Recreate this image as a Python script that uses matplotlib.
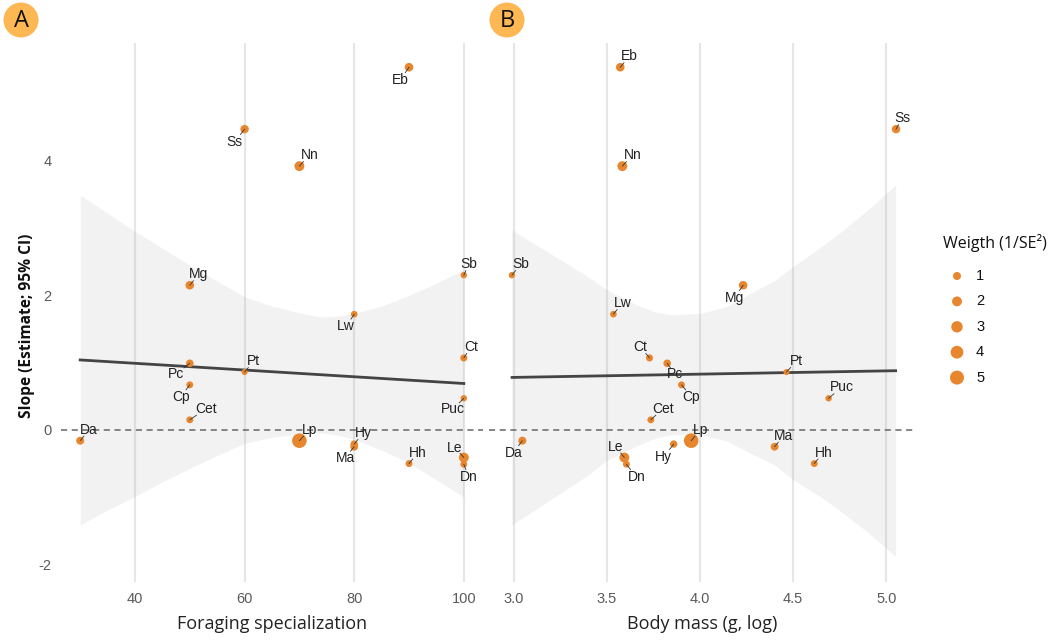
import numpy as np
import matplotlib.pyplot as plt
from matplotlib.patches import Circle

# species slopes with their two predictors
species = ["Eb", "Ss", "Nn", "Mg", "Sb", "Lw", "Pc", "Pt", "Cp", "Cet",
           "Ct", "Puc", "Da", "Lp", "Hy", "Ma", "Hh", "Le", "Dn"]
forage = [90, 60, 70, 50, 100, 80, 50, 60, 50, 50,
          100, 100, 30, 70, 80, 80, 90, 100, 100]
body_mass = [3.571, 5.052, 3.582, 4.231, 2.989, 3.534, 3.823, 4.464, 3.900, 3.735,
             3.728, 4.690, 3.045, 3.952, 3.858, 4.400, 4.613, 3.593, 3.604]
slope = [5.39, 4.47, 3.92, 2.15, 2.30, 1.72, 0.99, 0.86, 0.67, 0.15,
         1.07, 0.47, -0.16, -0.16, -0.21, -0.25, -0.50, -0.41, -0.51]
weight = [1.3, 1.2, 2.0, 1.3, 0.3, 0.4, 0.8, 0.2, 0.5, 0.5,
          0.6, 0.3, 1.0, 5.5, 0.7, 0.9, 0.5, 2.0, 0.5]

# fitted lines (endpoints) and 95% CI bands
fit_a_x = [30, 100]
fit_a_y = [1.04, 0.69]
band_a_x = [30, 35, 40, 45, 50, 55, 60, 65, 70, 73.7, 77, 80, 85, 90, 95, 100]
band_a_lo = [-1.41, -1.19, -0.99, -0.77, -0.57, -0.38, -0.20, -0.11, -0.06,
             -0.04, -0.08, -0.14, -0.30, -0.49, -0.74, -1.00]
band_a_hi = [3.49, 3.22, 2.95, 2.70, 2.45, 2.21, 1.98, 1.84, 1.74,
             1.68, 1.69, 1.73, 1.84, 2.00, 2.18, 2.38]

fit_b_x = [2.99, 5.05]
fit_b_y = [0.78, 0.88]
band_b_x = [2.99, 3.1, 3.25, 3.4, 3.5, 3.65, 3.75, 3.85, 4.0, 4.15, 4.25,
            4.4, 4.5, 4.65, 4.75, 4.9, 5.05]
band_b_lo = [-1.41, -1.21, -0.94, -0.67, -0.45, -0.25, -0.13, -0.07, -0.07,
             -0.17, -0.32, -0.52, -0.74, -1.00, -1.20, -1.52, -1.88]
band_b_hi = [2.97, 2.78, 2.53, 2.27, 2.08, 1.87, 1.76, 1.71, 1.73, 1.84,
             2.00, 2.22, 2.43, 2.72, 2.93, 3.27, 3.64]

legend_weights = [1, 2, 3, 4, 5]

# label offsets in pixels (right, up)
offs_a = {"Eb": (-9, -13), "Ss": (-10, -13), "Nn": (10, 11), "Mg": (9, 11),
          "Sb": (5, 11), "Lw": (-8, -12), "Pc": (-14, -11), "Pt": (9, 11),
          "Cp": (-9, -12), "Cet": (16, 11), "Ct": (7, 11), "Puc": (-11, -11),
          "Da": (9, 11), "Lp": (10, 11), "Hy": (9, 11), "Ma": (-9, -11),
          "Hh": (9, 11), "Le": (-9, 10), "Dn": (5, -13)}
offs_b = {"Eb": (9, 11), "Ss": (6, 11), "Nn": (10, 11), "Mg": (-9, -13),
          "Sb": (9, 11), "Lw": (9, 11), "Pc": (8, -11), "Pt": (10, 11),
          "Cp": (10, -12), "Cet": (12, 11), "Ct": (-9, 11), "Puc": (13, 11),
          "Da": (-9, -12), "Lp": (9, 11), "Hy": (-10, -13), "Ma": (9, 11),
          "Hh": (9, 11), "Le": (-9, 11), "Dn": (10, -13)}

ORANGE = "#E8862F"
PX = 0.72  # points per pixel at 100 dpi


def marker_area(w):
    d = np.sqrt(31 + 33 * np.asarray(w, dtype=float))  # diameter in px
    return (d * PX) ** 2


W, H = 1060, 643
fig = plt.figure(figsize=(W / 100, H / 100), dpi=100)

# overlay in pixel units for tags and legend
ov = fig.add_axes([0, 0, 1, 1], facecolor="none")
ov.set_xlim(0, W)
ov.set_ylim(H, 0)
ov.axis("off")

top, bottom = 43, 582
ax_a = fig.add_axes([61 / W, 1 - bottom / H, (483 - 61) / W, (bottom - top) / H])
ax_b = fig.add_axes([489 / W, 1 - bottom / H, (915 - 489) / W, (bottom - top) / H])


def panel(ax, x, fx, fy, bx, blo, bhi, offs, xlim, xticks, xfmt, xlabel):
    ax.set_xlim(*xlim)
    ax.set_ylim(-2.26, 5.75)
    ax.set_facecolor("none")
    ax.set_xticks(xticks)
    ax.set_xticklabels([xfmt.format(t) for t in xticks])
    for t in xticks:
        ax.axvline(t, color="#E6E6E6", lw=1.5, zorder=0)
    for s in ax.spines.values():
        s.set_visible(False)
    ax.tick_params(length=0, labelsize=10.5, labelcolor="#5A5A5A", pad=7)
    for lab in ax.get_xticklabels() + ax.get_yticklabels():
        lab.set_family("Liberation Sans")

    ax.fill_between(bx, blo, bhi, color="#999999", alpha=0.12, lw=0, zorder=1)
    ax.axhline(0, color="#666666", lw=1.1, ls=(0, (4, 3)), zorder=2)
    ax.plot(fx, fy, color="#444444", lw=2.0, zorder=3)
    ax.scatter(x, slope, s=marker_area(weight), color=ORANGE, lw=0, zorder=4)

    for name, xi, yi in zip(species, x, slope):
        dx, dy = offs[name]
        ax.annotate("", xy=(xi, yi), xytext=(dx * 0.42 * PX, dy * 0.42 * PX),
                    textcoords="offset points",
                    arrowprops=dict(arrowstyle="-", color="#333333", lw=0.6,
                                    shrinkA=0, shrinkB=0), zorder=5)
        ax.annotate(name, xy=(xi, yi), xytext=(dx * PX, dy * PX),
                    textcoords="offset points", ha="center", va="center",
                    fontsize=10, family="Liberation Sans", color="#222222",
                    zorder=6)

    ax.set_xlabel(xlabel, family="Open Sans", fontsize=13, color="#222222",
                  labelpad=7)


panel(ax_a, forage, fit_a_x, fit_a_y, band_a_x, band_a_lo, band_a_hi, offs_a,
      (26.5, 103.5), [40, 60, 80, 100], "{:d}", "Foraging specialization")
panel(ax_b, body_mass, fit_b_x, fit_b_y, band_b_x, band_b_lo, band_b_hi, offs_b,
      (2.866, 5.154), [3.0, 3.5, 4.0, 4.5, 5.0], "{:.1f}", "Body mass (g, log)")

ax_a.set_yticks([-2, 0, 2, 4])
ax_a.set_yticklabels(["-2", "0", "2", "4"])
for lab in ax_a.get_yticklabels():
    lab.set_family("Liberation Sans")
ax_b.set_yticks([])

ov.text(27, 326, "Slope (Estimate; 95% CI)", rotation=90,
        ha="center", va="center", family="Open Sans", fontweight="bold",
        fontsize=11.2, color="#111111")

# panel tags
for tag, cx in (("A", 21), ("B", 507)):
    ov.add_patch(Circle((cx, 20), 17.5, color="#FDB853", lw=0))
    ov.text(cx, 21, tag, ha="center", va="center",
            family="Open Sans", fontsize=17, color="#111111")

# size legend
ov.text(995, 243, "Weigth (1/SE²)", ha="center", va="center",
        family="Open Sans", fontsize=11.5, color="#111111")
leg_y = [276 + 25.4 * i for i in range(len(legend_weights))]
ov.scatter([957] * len(legend_weights), leg_y,
           s=marker_area(legend_weights), color=ORANGE, lw=0)
for w, yy in zip(legend_weights, leg_y):
    ov.text(976, yy, str(w), ha="left", va="center",
            family="Liberation Sans", fontsize=10.5, color="#111111")

fig.savefig("out.png", dpi=100)
